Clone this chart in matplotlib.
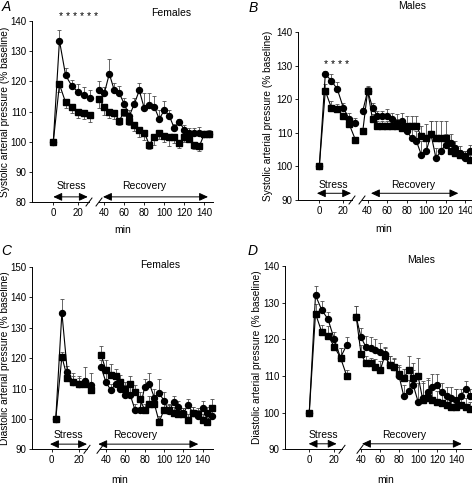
"""Blood pressure response to stress, females vs males (systolic and diastolic)."""

import matplotlib

matplotlib.use("Agg")
import matplotlib.pyplot as plt
from matplotlib.lines import Line2D

plt.rcParams["font.family"] = ["Liberation Sans", "DejaVu Sans"]
plt.rcParams["font.size"] = 7

W, H = 472, 484

# ---------------- data ----------------
stress_t = [0, 5, 10, 15, 20, 25, 30]
stress_t_c = [3, 7.5, 11.5, 16, 20, 24.5, 29]
rec_t_145 = [35, 40, 45, 50, 55, 60, 65, 70, 75, 80, 85, 90, 95, 100, 105, 110,
             115, 120, 125, 130, 135, 140, 145]
rec_t_150 = [35, 40, 45, 50, 55, 60, 65, 70, 75, 80, 85, 90, 95, 100, 105, 110,
             115, 120, 125, 130, 135, 140, 145, 150]
rec_t_155 = [35, 40, 45, 50, 55, 60, 65, 70, 75, 80, 85, 90, 95, 100, 105, 110,
             115, 120, 125, 130, 135, 140, 145, 150, 155]

# A: females, systolic
a_stress_circ = [100, 133.5, 122, 118.5, 116.5, 115.5, 114.5]
a_stress_circ_err = [0, 3.5, 2.5, 2, 2.5, 2.5, 2.5]
a_stress_sq = [100, 119, 113, 111.5, 110, 109.5, 109]
a_stress_sq_err = [0, 2.5, 2, 2, 2, 2, 2.5]
a_rec_circ = [117, 116, 122.5, 117, 116, 112.5, 108.5, 112.5, 117, 111, 112, 111.5,
              107.5, 110.5, 108.5, 104.5, 106.5, 104, 103, 103, 103, 102.5, 102.5]
a_rec_circ_err = [3, 2, 5, 2.5, 2.5, 2, 2, 2, 2.5, 5, 4, 3.5, 3, 3, 2, 1.5, 1, 1.5,
                  1.5, 1.5, 2, 1, 1.5]
a_rec_sq = [114, 111.5, 110, 109.5, 107, 110, 107, 105.5, 104, 103, 99, 101.5, 103,
            102, 101.5, 101.5, 99.5, 101.5, 101, 99, 98.5, 102.5, 102.5]
a_rec_sq_err = [3, 2.5, 2, 2, 1.5, 1.5, 1.5, 2, 2.5, 2.5, 1.5, 2.5, 2, 2, 3, 2, 1.5,
                1.5, 1, 1.5, 1.5, 1, 1]

# B: males, systolic
b_stress_circ = [100, 127.5, 125.5, 123, 117.5, 114, 113]
b_stress_circ_err = [0, 1, 2, 2, 1.5, 2, 1.5]
b_stress_sq = [100, 122.5, 117.5, 117, 115, 112.5, 108]
b_stress_sq_err = [0, 2, 2, 1.5, 1, 1.5, 0.5]
b_rec_circ = [116.5, 122.5, 117.5, 115, 115, 115, 114, 113, 113.5, 110.5, 108.5,
              107.5, 103.5, 104.5, 109.5, 102.5, 104.5, 106.5, 107, 105.5, 104,
              102.5, 104.5]
b_rec_circ_err = [1, 1, 1.5, 1.5, 1.5, 2, 2, 2.5, 2.5, 2, 3, 3, 4, 4, 4, 3, 3, 3,
                  2.5, 2, 2, 2, 2]
b_rec_sq = [110.5, 122.5, 114, 112, 112, 112, 112, 112, 111.5, 112, 112, 112, 109,
            108.5, 109.5, 108.5, 108.5, 108.5, 104.5, 104, 103.5, 103, 102]
b_rec_sq_err = [1, 1.5, 1.5, 1.5, 1.5, 1.5, 2, 2, 2, 3, 3, 3, 3, 4, 4, 5, 5, 5, 2,
                2, 1.5, 1.5, 1.5]

# C: females, diastolic
c_stress_circ = [100, 135, 115.5, 112, 111.5, 112.5, 111]
c_stress_circ_err = [0, 4.5, 2, 3, 2.5, 4.5, 4]
c_stress_sq = [100, 120.5, 113.5, 112, 111.5, 111.5, 109.5]
c_stress_sq_err = [0, 1.5, 2, 2, 2, 2, 1]
c_rec_circ = [117, 112, 109.5, 111.5, 110, 108, 108, 103, 103, 110.5, 111.5, 107,
              108.5, 106, 102.5, 105.5, 104, 102, 104.5, 102, 101, 103.5, 102, 101]
c_rec_circ_err = [2.5, 3, 2, 2.5, 2, 3, 3, 2, 2.5, 2.5, 3.5, 3, 4.5, 3, 2, 2, 2,
                  1.5, 2, 2, 2, 2.5, 2, 2]
c_rec_sq = [121, 116, 114.5, 114, 112, 110, 111.5, 109, 106.5, 103, 105, 105, 99,
            103, 103, 102, 101.5, 101.5, 99.5, 102, 101.5, 99.5, 99, 103.5]
c_rec_sq_err = [3, 3.5, 3.5, 2.5, 2.5, 2, 2.5, 2, 2.5, 2, 2.5, 2.5, 2, 2, 2, 2, 2,
                2, 2, 2, 2, 2, 2, 3]

# D: males, diastolic
d_stress_circ = [100, 132, 128, 125.5, 120, 115, 118.5]
d_stress_circ_err = [0, 2.5, 2.5, 2, 2, 2.5, 2]
d_stress_sq = [100, 127, 122, 121, 118, 115, 110]
d_stress_sq_err = [0, 2.5, 2, 2.5, 2, 2.5, 1.5]
d_rec_circ = [126, 120.5, 118, 117.5, 117, 116.5, 116, 113, 112.5, 110, 104.5, 106,
              107.5, 103, 104, 105.5, 107, 107.5, 105.5, 104.5, 104, 103.5, 104.5,
              106.5, 104.5]
d_rec_circ_err = [3, 2.5, 3, 3, 3, 2.5, 2, 2.5, 2, 2.5, 3, 3, 4, 5, 4, 4, 3.5, 3,
                  2.5, 2.5, 3, 3, 2, 2, 2]
d_rec_sq = [126, 116, 113.5, 113.5, 112.5, 111.5, 115.5, 113, 112.5, 110.5, 109.5,
            111.5, 109.5, 110, 103.5, 104, 103.5, 103, 102.5, 102, 101.5, 101.5, 102,
            101.5, 101]
d_rec_sq_err = [3, 2.5, 2, 1.5, 2, 2.5, 2, 2.5, 2.5, 2.5, 2.5, 4, 4, 5, 5, 5, 4, 3,
                3, 2.5, 3, 5, 3, 2.5, 2]

sys_label = "Systolic arterial pressure (% baseline)"
dia_label = "Diastolic arterial pressure (% baseline)"

# ---------------- layout (pixels) ----------------
panels = [
    dict(letter="A", sex="Females", ylabel=sys_label,
         stress_t=stress_t, rec_t=rec_t_145,
         s_circ=a_stress_circ, s_circ_err=a_stress_circ_err,
         s_sq=a_stress_sq, s_sq_err=a_stress_sq_err,
         r_circ=a_rec_circ, r_circ_err=a_rec_circ_err,
         r_sq=a_rec_sq, r_sq_err=a_rec_sq_err, sq_down=True,
         ylim=(80, 140), yticks=[80, 90, 100, 110, 120, 130, 140],
         y_px=(21, 202), left_px=(32, 89), left_xlim=(-17.3, 29.0),
         right_px=(99, 213), right_xlim=(34.7, 148.7),
         arrow_y=81.7, stress_arrow=(0, 28), rec_arrow=(38.7, 143.7),
         stress_txt=(71, 186), rec_txt=(144, 186), sex_txt=(171, 13),
         letter_txt=(6, 7), min_txt=(123, 230), ylabel_x=5,
         stars="* * * * * *", stars_txt=(79, 17)),
    dict(letter="B", sex="Males", ylabel=sys_label,
         stress_t=stress_t, rec_t=rec_t_145,
         s_circ=b_stress_circ, s_circ_err=b_stress_circ_err,
         s_sq=b_stress_sq, s_sq_err=b_stress_sq_err,
         r_circ=b_rec_circ, r_circ_err=b_rec_circ_err,
         r_sq=b_rec_sq, r_sq_err=b_rec_sq_err, sq_down=False,
         ylim=(90, 140), yticks=[90, 100, 110, 120, 130, 140],
         y_px=(32, 200), left_px=(298, 352), left_xlim=(-17.75, 27.25),
         right_px=(362, 472), right_xlim=(34.2, 147.0),
         arrow_y=92, stress_arrow=(-2, 26.5), rec_arrow=(43.4, 133),
         stress_txt=(333, 185), rec_txt=(413, 185), sex_txt=(412, 6),
         letter_txt=(253, 8), min_txt=(384, 229), ylabel_x=268,
         stars="* * * *", stars_txt=(337, 65)),
    dict(letter="C", sex="Females", ylabel=dia_label,
         stress_t=stress_t_c, rec_t=rec_t_150,
         s_circ=c_stress_circ, s_circ_err=c_stress_circ_err,
         s_sq=c_stress_sq, s_sq_err=c_stress_sq_err,
         r_circ=c_rec_circ, r_circ_err=c_rec_circ_err,
         r_sq=c_rec_sq, r_sq_err=c_rec_sq_err, sq_down=False,
         ylim=(90, 150), yticks=[90, 100, 110, 120, 130, 140, 150],
         y_px=(267, 449.3), left_px=(32, 87), left_xlim=(-14.4, 25.9),
         right_px=(100, 213), right_xlim=(33.8, 150.7),
         arrow_y=91.7, stress_arrow=(-1.2, 25.9), rec_arrow=(32, 135.5),
         stress_txt=(68, 435), rec_txt=(135, 435), sex_txt=(160, 265),
         letter_txt=(6, 251), min_txt=(120, 480), ylabel_x=5,
         stars=None, stars_txt=None),
    dict(letter="D", sex="Males", ylabel=dia_label,
         stress_t=stress_t, rec_t=rec_t_155,
         s_circ=d_stress_circ, s_circ_err=d_stress_circ_err,
         s_sq=d_stress_sq, s_sq_err=d_stress_sq_err,
         r_circ=d_rec_circ, r_circ_err=d_rec_circ_err,
         r_sq=d_rec_sq, r_sq_err=d_rec_sq_err, sq_down=False,
         ylim=(90, 140), yticks=[90, 100, 110, 120, 130, 140],
         y_px=(266, 449.3), left_px=(285, 342), left_xlim=(-19.4, 26.2),
         right_px=(360, 472), right_xlim=(38.9, 156.8),
         arrow_y=91.5, stress_arrow=(-0.5, 21.9), rec_arrow=(41, 146),
         stress_txt=(323, 435), rec_txt=(404, 435), sex_txt=(421, 260),
         letter_txt=(253, 251), min_txt=(386, 480), ylabel_x=257,
         stars=None, stars_txt=None),
]


def fx(x):
    return x / W


def fy(y):
    return 1 - y / H


def ftext(fig, xy, s, **kw):
    fig.text(fx(xy[0]), fy(xy[1]), s, ha="center", va="center", **kw)


def draw_series(ax, t, v, err, marker, down):
    zeros = [0] * len(err)
    yerr = [err, zeros] if down else [zeros, err]
    eb = ax.errorbar(t, v, yerr=yerr, fmt="none", ecolor="0.3", elinewidth=0.6,
                     capsize=1.6, capthick=0.6)
    for art in eb.get_children():
        art.set_clip_on(False)
    ax.plot(t, v, "-", color="black", lw=0.8, marker=marker, ms=4.3,
            mfc="black", mec="black", clip_on=False, zorder=3)


def style_axis(ax):
    for side in ("top", "right"):
        ax.spines[side].set_visible(False)
    for sp in ax.spines.values():
        sp.set_linewidth(0.7)
    ax.tick_params(length=2.5, width=0.6, labelsize=7, pad=1.5)
    ax.patch.set_alpha(0)


fig = plt.figure(figsize=(W / 100, H / 100), dpi=100)

for p in panels:
    y0, y1 = p["y_px"]
    lx0, lx1 = p["left_px"]
    rx0, rx1 = p["right_px"]
    ax_l = fig.add_axes([fx(lx0), fy(y1), fx(lx1 - lx0), (y1 - y0) / H])
    ax_r = fig.add_axes([fx(rx0), fy(y1), fx(rx1 - rx0), (y1 - y0) / H])
    for ax in (ax_l, ax_r):
        style_axis(ax)
        ax.set_ylim(*p["ylim"])
    ax_l.set_xlim(*p["left_xlim"])
    ax_r.set_xlim(*p["right_xlim"])
    ax_l.set_yticks(p["yticks"])
    ax_l.set_xticks([0, 20])
    ax_r.set_xticks([40, 60, 80, 100, 120, 140])
    ax_r.spines["left"].set_visible(False)
    ax_r.set_yticks([])

    draw_series(ax_l, p["stress_t"], p["s_circ"], p["s_circ_err"], "o", False)
    draw_series(ax_l, p["stress_t"], p["s_sq"], p["s_sq_err"], "s", p["sq_down"])
    draw_series(ax_r, p["rec_t"], p["r_circ"], p["r_circ_err"], "o", False)
    draw_series(ax_r, p["rec_t"], p["r_sq"], p["r_sq_err"], "s", p["sq_down"])

    arrow_kw = dict(arrowstyle="<|-|>,head_length=0.65,head_width=0.3",
                    color="black", lw=0.7, mutation_scale=8,
                    shrinkA=0, shrinkB=0)
    ax_l.annotate("", xy=(p["stress_arrow"][1], p["arrow_y"]),
                  xytext=(p["stress_arrow"][0], p["arrow_y"]),
                  arrowprops=arrow_kw, annotation_clip=False)
    ax_r.annotate("", xy=(p["rec_arrow"][1], p["arrow_y"]),
                  xytext=(p["rec_arrow"][0], p["arrow_y"]),
                  arrowprops=arrow_kw, annotation_clip=False)

    # axis break marks
    for xb in (lx1, rx0):
        fig.add_artist(Line2D([fx(xb - 3), fx(xb + 3)], [fy(y1 + 4), fy(y1 - 4)],
                              color="black", lw=0.7))

    ftext(fig, p["stress_txt"], "Stress", fontsize=7.5)
    ftext(fig, p["rec_txt"], "Recovery", fontsize=7.5)
    ftext(fig, p["sex_txt"], p["sex"], fontsize=7.5)
    ftext(fig, p["letter_txt"], p["letter"], fontsize=10, style="italic")
    ftext(fig, p["min_txt"], "min", fontsize=7.5)
    ftext(fig, (p["ylabel_x"], (y0 + y1) / 2), p["ylabel"], fontsize=7.3,
          rotation=90)
    if p["stars"]:
        ftext(fig, p["stars_txt"], p["stars"], fontsize=7.5)

fig.savefig("out.png", dpi=100)
